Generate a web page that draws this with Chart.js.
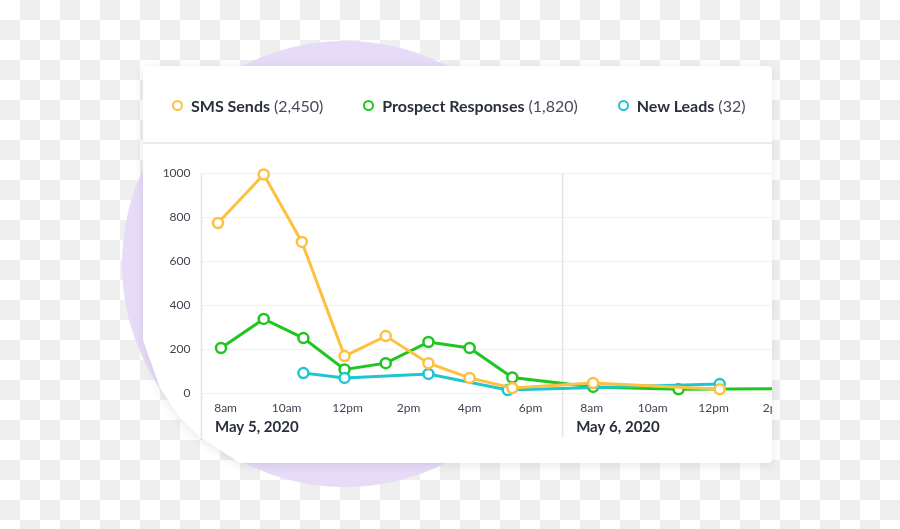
<!DOCTYPE html>
<html>
<head>
<meta charset="utf-8">
<script src="https://cdn.jsdelivr.net/npm/chart.js@4.4.0/dist/chart.umd.min.js"></script>
<style>
  html, body { margin: 0; padding: 0; }
  body {
    width: 900px; height: 529px; position: relative; overflow: hidden;
    background: repeating-conic-gradient(#efefef 0 25%, #ffffff 0 50%) 0 0 / 40px 40px;
    font-family: Lato, 'Open Sans', sans-serif;
  }
  .blob {
    position: absolute; left: 122px; top: 41px; width: 446px; height: 446px;
    border-radius: 50%; background: #e7dcf8;
  }
  .shadow { position: absolute; left: 0; top: 0; filter: drop-shadow(0 2px 5px rgba(0,0,0,0.09)); }
  .card {
    position: absolute; left: 143px; top: 66px; width: 629px; height: 397px;
    background: #fff; border-radius: 4px; overflow: hidden;
    clip-path: polygon(0 0, 100% 0, 100% 100%, 97px 100%, 77px 384px, 57px 371px, 37px 352px, 17px 322px, 0 274px);
  }
  .legend {
    position: absolute; left: 0; top: 0; width: 100%; height: 73px; padding-top: 3px;
    border-bottom: 2px solid #ebebeb; display: flex; align-items: center;
    padding-left: 29px; box-sizing: content-box; gap: 40px;
  }
  .item { display: flex; align-items: center; font-size: 16px; white-space: nowrap; }
  .ring { width: 7px; height: 7px; border-radius: 50%; border: 2.5px solid; margin-right: 8px; }
  .item b { color: #2a2f3d; font-weight: 700; }
  .item span.n { color: #454b59; margin-left: 4px; }
  canvas { position: absolute; left: 0; top: 84px; }
</style>
</head>
<body>
<div class="blob"></div>
<div class="shadow">
  <div class="card">
    <div class="legend" id="legend"></div>
    <canvas id="chart" width="680" height="310"></canvas>
  </div>
</div>
<script>
// series names, totals and colours
const seriesNames = ['SMS Sends', 'Prospect Responses', 'New Leads'];
const seriesTotals = ['2,450', '1,820', '32'];
const seriesColors = ['#fdc13f', '#20c520', '#1dc7d2'];

// x = hour position (day 2 continues after a compressed night: 8am May 6 = 20)
const smsHours = [7.75, 9.25, 10.5, 11.9, 13.25, 14.65, 16, 17.4, 20.05, 24.2];
const smsCounts = [774, 995, 688, 169, 260, 137, 70, 24, 47, 18];

const responseHours = [7.85, 9.25, 10.55, 11.9, 13.25, 14.65, 16, 17.4, 20.05, 22.85, 28];
const responseCounts = [206, 338, 251, 108, 137, 233, 206, 72, 29, 18, 22];

const leadHours = [10.55, 11.9, 14.65, 17.25, 24.2];
const leadCounts = [92, 70, 88, 15, 42];

const tickHours = [8, 10, 12, 14, 16, 18, 20, 22, 24, 26];
const tickLabels = ['8am', '10am', '12pm', '2pm', '4pm', '6pm', '8am', '10am', '12pm', '2pm'];

const dayLabels = ['May 5, 2020', 'May 6, 2020'];
const dayBreaks = [19.05];

const pts = (xs, ys) => xs.map((x, i) => ({ x: x, y: ys[i] }));

document.getElementById('legend').innerHTML = seriesNames.map((n, i) =>
  '<div class="item"><i class="ring" style="border-color:' + seriesColors[i] + '"></i><b>' + n +
  '</b><span class="n">(' + seriesTotals[i] + ')</span></div>').join('');

const dayPlugin = {
  id: 'days',
  beforeDatasetsDraw(chart) {
    const { ctx, chartArea, scales } = chart;
    const xs = [chartArea.left].concat(dayBreaks.map(v => scales.x.getPixelForValue(v)));
    ctx.save();
    ctx.strokeStyle = '#e4e4e4';
    ctx.lineWidth = 1.5;
    xs.forEach(px => {
      ctx.beginPath();
      ctx.moveTo(px, chartArea.top);
      ctx.lineTo(px, chartArea.bottom + 44);
      ctx.stroke();
    });
    ctx.restore();
  },
  afterDraw(chart) {
    const { ctx, chartArea, scales } = chart;
    const xs = [chartArea.left].concat(dayBreaks.map(v => scales.x.getPixelForValue(v)));
    ctx.save();
    ctx.font = 'bold 15px Lato';
    ctx.fillStyle = '#2a2f3d';
    ctx.textBaseline = 'middle';
    xs.forEach((px, i) => ctx.fillText(dayLabels[i], px + 13.5, chartArea.bottom + 34));
    ctx.restore();
  }
};

Chart.defaults.font.family = 'Lato';

const line = (i, data, order) => ({
  label: seriesNames[i],
  data: data,
  order: order,
  clip: false,
  borderColor: seriesColors[i],
  backgroundColor: '#ffffff',
  borderWidth: 3,
  pointRadius: 5,
  pointBorderWidth: 2.5,
  pointBackgroundColor: '#ffffff',
  pointBorderColor: seriesColors[i],
  tension: 0
});

new Chart(document.getElementById('chart'), {
  type: 'line',
  data: {
    datasets: [
      line(0, pts(smsHours, smsCounts), 0),
      line(1, pts(responseHours, responseCounts), 2),
      line(2, pts(leadHours, leadCounts), 1)
    ]
  },
  options: {
    responsive: false,
    animation: false,
    layout: { padding: { top: 23.3, left: 0, right: 0, bottom: 0 } },
    plugins: { legend: { display: false }, tooltip: { enabled: false } },
    scales: {
      x: {
        type: 'linear',
        min: 7.21,
        max: 27.34,
        afterFit: s => { s.height = 66.7; },
        afterBuildTicks: s => { s.ticks = tickHours.map(v => ({ value: v })); },
        grid: { display: false, drawTicks: false },
        border: { display: false },
        ticks: {
          padding: 8,
          color: '#3f4451',
          font: { size: 12 },
          maxRotation: 0,
          autoSkip: false,
          callback: v => tickLabels[tickHours.indexOf(v)]
        }
      },
      y: {
        min: 0,
        max: 1000,
        afterFit: s => { s.width = 58.5; },
        grid: { color: '#f1f1f1', lineWidth: 1, drawTicks: false },
        border: { display: false },
        ticks: { stepSize: 200, padding: 11, color: '#3f4451', font: { size: 12 }, callback: v => String(v) }
      }
    }
  },
  plugins: [dayPlugin]
});
</script>
</body>
</html>
